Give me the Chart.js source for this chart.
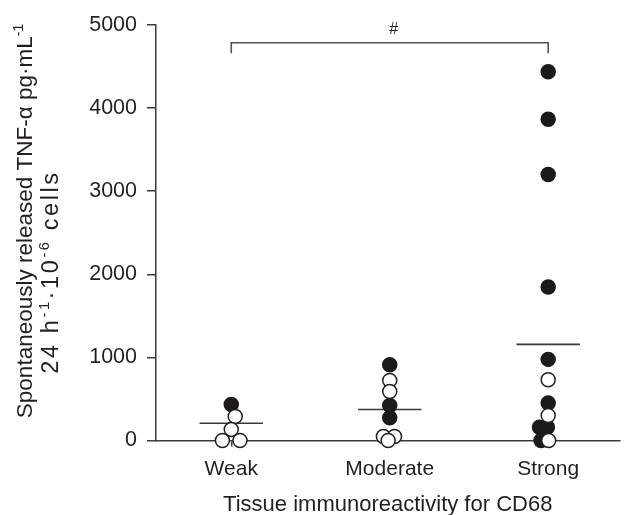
<!DOCTYPE html>
<html>
<head>
<meta charset="utf-8">
<title>TNF-alpha by CD68 immunoreactivity</title>
<script src="https://cdn.jsdelivr.net/npm/chart.js@4.4.1/dist/chart.umd.min.js"></script>
<style>
  html, body { margin: 0; padding: 0; background: #fff; }
  #wrap { width: 628px; height: 515px; }
</style>
</head>
<body>
<div id="wrap"><canvas id="tnfChart" width="628" height="515"></canvas></div>
<script>
// categories on the x axis (plotted at 1, 2, 3)
const categories = ['Weak', 'Moderate', 'Strong'];
const yTicks = [0, 1000, 2000, 3000, 4000, 5000];

// TNF-alpha values, pg·mL-1
const weakFilled = [434];
const weakOpen = [289, 133, 0, 0];
const moderateFilled = [912, 422, 273];
const moderateOpen = [723, 590, 48, 48, 0];
const strongFilled = [4437, 3867, 3201, 1847, 976, 450, 160, 160, 0];
const strongOpen = [731, 301, 0];
const groupMeans = [208, 373, 1157];

// sideways dodge of overlapping circles, in category units
const weakFilledDodge = [0];
const weakOpenDodge = [0.025, 0, -0.056, 0.055];
const moderateFilledDodge = [0, 0, 0];
const moderateOpenDodge = [0, 0, -0.04, 0.03, -0.01];
const strongFilledDodge = [0, 0, 0, 0, 0, 0, -0.055, -0.005, -0.045];
const strongOpenDodge = [0, 0, 0.003];

// significance bracket Weak vs Strong
const bracketX = [1, 1, 3, 3];
const bracketY = [4660, 4787, 4787, 4660];
const sigLabel = '#';
const sigLabelY = 4945;

const INK = '#231f20';
const LINE = '#3a3a3a';
const FONT = '"Liberation Sans", Arial, sans-serif';

function toPoints(catIndex, values, dodge) {
    return values.map((v, i) => ({ x: catIndex + 1 + dodge[i], y: v }));
}

const filledPts = [].concat(
    toPoints(0, weakFilled, weakFilledDodge),
    toPoints(1, moderateFilled, moderateFilledDodge),
    toPoints(2, strongFilled, strongFilledDodge)
);
const openPts = [].concat(
    toPoints(0, weakOpen, weakOpenDodge),
    toPoints(1, moderateOpen, moderateOpenDodge),
    toPoints(2, strongOpen, strongOpenDodge)
);

const MEAN_HALF = 0.2;
const meanDatasets = groupMeans.map((m, i) => ({
    type: 'line',
    data: [{ x: i + 1 - MEAN_HALF, y: m }, { x: i + 1 + MEAN_HALF, y: m }],
    borderColor: LINE,
    borderWidth: 1.6,
    pointRadius: 0,
    order: 2
}));

// rotated y title with superscripts
function drawRich(ctx, parts, cx, cy, size, spacing) {
    const supSize = size * 0.62;
    ctx.save();
    ctx.letterSpacing = spacing + 'px';
    let total = 0;
    parts.forEach(p => {
        ctx.font = (p.sup ? supSize : size) + 'px ' + FONT;
        p.w = ctx.measureText(p.t).width;
        total += p.w;
    });
    ctx.translate(cx, cy);
    ctx.rotate(-Math.PI / 2);
    ctx.fillStyle = INK;
    ctx.textBaseline = 'alphabetic';
    let x = -total / 2;
    parts.forEach(p => {
        ctx.font = (p.sup ? supSize : size) + 'px ' + FONT;
        ctx.fillText(p.t, x, p.sup ? -size * 0.38 : 0);
        x += p.w;
    });
    ctx.restore();
}

const annotations = {
    id: 'annotations',
    afterDraw(chart) {
        const ctx = chart.ctx;
        const { x, y } = chart.scales;
        drawRich(ctx, [
            { t: 'Spontaneously released TNF-\u03b1 pg\u00b7mL' },
            { t: '-1', sup: true }
        ], 32, 221, 22.5, 0);
        drawRich(ctx, [
            { t: '24 h' }, { t: '-1', sup: true },
            { t: '\u00b710' }, { t: '-6', sup: true },
            { t: ' cells' }
        ], 58, 272, 23.5, 2.6);
        ctx.save();
        ctx.fillStyle = INK;
        ctx.font = '16px ' + FONT;
        ctx.textAlign = 'center';
        ctx.textBaseline = 'middle';
        ctx.fillText(sigLabel, x.getPixelForValue(2) + 4, y.getPixelForValue(sigLabelY));
        ctx.restore();
    }
};

const chart = new Chart(document.getElementById('tnfChart'), {
    type: 'scatter',
    data: {
        datasets: [
            {
                data: openPts,
                pointRadius: 7,
                pointBorderWidth: 1.5,
                pointBackgroundColor: '#ffffff',
                pointBorderColor: INK,
                clip: false,
                order: 0
            },
            {
                data: filledPts,
                pointRadius: 7,
                pointBorderWidth: 1.5,
                pointBackgroundColor: '#1c1a1a',
                pointBorderColor: '#1c1a1a',
                clip: false,
                order: 1
            },
            ...meanDatasets,
            {
                type: 'line',
                data: bracketX.map((bx, i) => ({ x: bx, y: bracketY[i] })),
                borderColor: '#555',
                borderWidth: 1.6,
                pointRadius: 0,
                clip: false,
                order: 3
            }
        ]
    },
    options: {
        responsive: false,
        animation: false,
        devicePixelRatio: 1,
        layout: { padding: { top: 25, right: 4, left: 0, bottom: 0 } },
        plugins: { legend: { display: false }, tooltip: { enabled: false } },
        scales: {
            x: {
                type: 'linear',
                min: 0.525,
                max: 3.45,
                afterBuildTicks: (scale) => {
                    scale.ticks = categories.map((c, i) => ({ value: i + 1 }));
                },
                afterFit: (scale) => { scale.height = 74.5; },
                ticks: {
                    callback: (v) => categories[v - 1],
                    color: INK,
                    font: { family: FONT, size: 21 },
                    padding: 10,
                    maxRotation: 0,
                    autoSkip: false
                },
                grid: { drawOnChartArea: false, drawTicks: true, tickLength: 6, color: LINE, lineWidth: 1.5 },
                border: { display: true, color: LINE, width: 1.5 },
                title: {
                    display: true,
                    text: 'Tissue immunoreactivity for CD68',
                    color: INK,
                    font: { family: FONT, size: 22 },
                    padding: { top: 0, bottom: -3 }
                }
            },
            y: {
                min: 0,
                max: 5000,
                afterBuildTicks: (scale) => {
                    scale.ticks = yTicks.map(v => ({ value: v }));
                },
                afterFit: (scale) => { scale.width = 156; },
                ticks: {
                    callback: (v) => String(v),
                    color: INK,
                    font: { family: FONT, size: 21.5 },
                    padding: 10
                },
                grid: { drawOnChartArea: false, drawTicks: true, tickLength: 9, color: LINE, lineWidth: 1.5 },
                border: { display: true, color: LINE, width: 1.5 }
            }
        }
    },
    plugins: [annotations]
});
</script>
</body>
</html>
